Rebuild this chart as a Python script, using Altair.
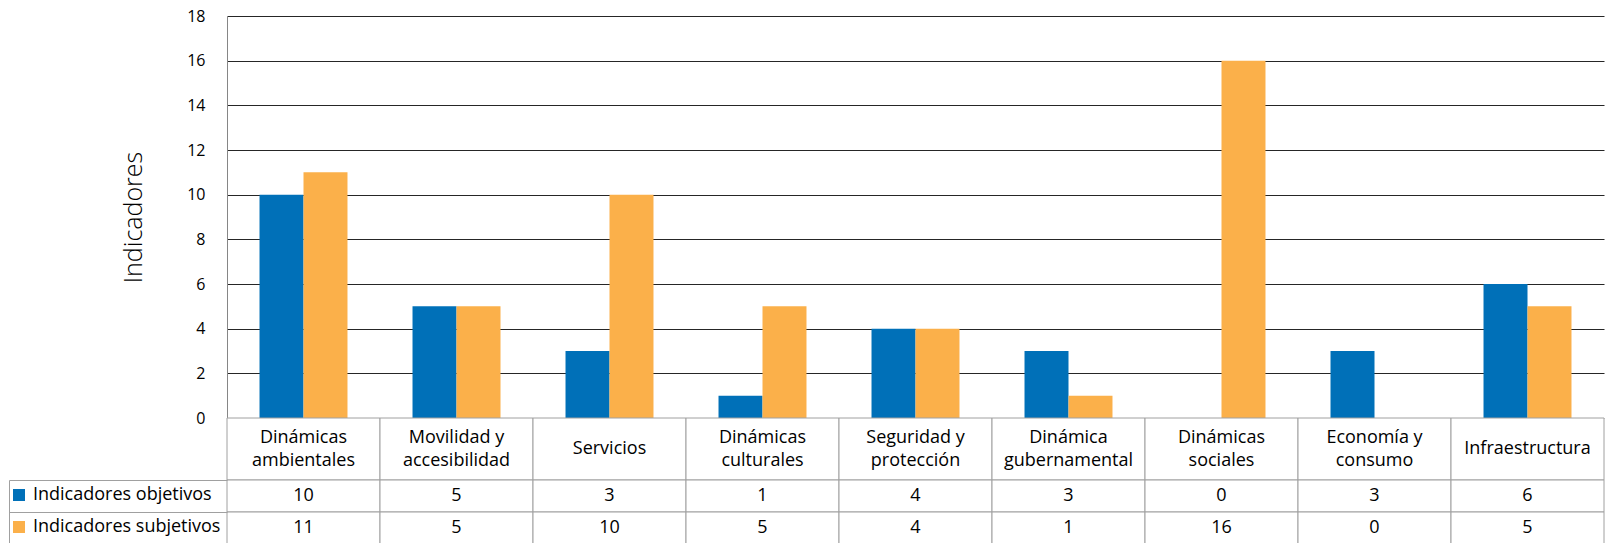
import altair as alt
import pandas as pd

categories = [
    "Dinámicas ambientales", "Movilidad y accesibilidad", "Servicios",
    "Dinámicas culturales", "Seguridad y protección", "Dinámica gubernamental",
    "Dinámicas sociales", "Economía y consumo", "Infraestructura",
]
line1 = ["Dinámicas", "Movilidad y", "", "Dinámicas", "Seguridad y", "Dinámica",
         "Dinámicas", "Economía y", ""]
line2 = ["ambientales", "accesibilidad", "", "culturales", "protección", "gubernamental",
         "sociales", "consumo", ""]
single = ["", "", "Servicios", "", "", "", "", "", "Infraestructura"]
series = ["Indicadores objetivos", "Indicadores subjetivos"]
objetivos = [10, 5, 3, 1, 4, 3, 0, 3, 6]
subjetivos = [11, 5, 10, 5, 4, 1, 16, 0, 5]
colors = ["#0070b8", "#fbb04a"]
y_ticks = [0, 2, 4, 6, 8, 10, 12, 14, 16, 18]

rows = []
for i, c in enumerate(categories):
    rows.append({"cat": c, "serie": series[0], "valor": objetivos[i]})
    rows.append({"cat": c, "serie": series[1], "valor": subjetivos[i]})
df = pd.DataFrame(rows)
cat_df = pd.DataFrame({"cat": categories, "l1": line1, "l2": line2, "single": single})

FONT = "Open Sans"
GRAY = "#a0a0a0"
W = 1377
FS = 18

x_bar = alt.X("cat:N", sort=categories,
              scale=alt.Scale(paddingInner=0.425, paddingOuter=0.2125), axis=None)

bars = alt.Chart(df).mark_bar().encode(
    x=x_bar,
    xOffset=alt.XOffset("serie:N", sort=series,
                        scale=alt.Scale(paddingInner=0, paddingOuter=0)),
    y=alt.Y("valor:Q", scale=alt.Scale(domain=[0, 18], nice=False),
            axis=alt.Axis(values=y_ticks, title="Indicadores", ticks=False,
                          labelPadding=22, labelFontSize=16, labelColor="black",
                          labelFont=FONT, domainColor="#868686",
                          gridColor=alt.condition("datum.value == 0", alt.value(GRAY), alt.value("#262626")),
                          titleFont=FONT, titleFontSize=25, titleFontWeight=300,
                          titleColor="black", titlePadding=40)),
    color=alt.Color("serie:N", sort=series,
                    scale=alt.Scale(domain=series, range=colors),
                    legend=alt.Legend(orient="none", legendX=-217, legendY=470, title=None,
                                      symbolType="square", symbolSize=144,
                                      symbolStrokeWidth=0, symbolOpacity=1,
                                      labelFontSize=FS, labelFont=FONT, labelLimit=400,
                                      labelColor="black", labelOffset=5,
                                      rowPadding=14, padding=0)),
).properties(width=W, height=402)

x_tab = alt.X("cat:N", sort=categories,
              scale=alt.Scale(paddingInner=0, paddingOuter=0), axis=None)

cat_cells = alt.Chart(cat_df).mark_rect(fill="white", stroke=GRAY, strokeWidth=1).encode(x=x_tab)
txt = dict(font=FONT, fontSize=FS, baseline="middle", color="black")
cat_t1 = alt.Chart(cat_df).mark_text(dy=-11.5, **txt).encode(x=x_tab, text="l1:N")
cat_t2 = alt.Chart(cat_df).mark_text(dy=11.5, **txt).encode(x=x_tab, text="l2:N")
cat_t0 = alt.Chart(cat_df).mark_text(**txt).encode(x=x_tab, text="single:N")
cat_panel = alt.layer(cat_cells, cat_t1, cat_t2, cat_t0).properties(width=W, height=62)

y_tab_scale = alt.Scale(paddingInner=0, paddingOuter=0)
cells = alt.Chart(df).mark_rect(fill="white", stroke=GRAY, strokeWidth=1).encode(
    x=x_tab,
    y=alt.Y("serie:N", sort=series, scale=y_tab_scale,
            axis=alt.Axis(title=None, labels=False, domain=False, tickBand="extent",
                          tickSize=218, tickColor=GRAY)),
)
vals = alt.Chart(df).mark_text(**txt).encode(
    x=x_tab,
    y=alt.Y("serie:N", sort=series,
            axis=alt.Axis(orient="left", offset=218, title=None, labels=False,
                          ticks=False, domain=True, domainColor=GRAY)),
    text="valor:Q",
)
data_panel = alt.layer(cells, vals).resolve_axis(y="independent").properties(width=W, height=64)

chart = alt.vconcat(bars, cat_panel, data_panel, spacing=0, bounds="flush").resolve_scale(
    x="independent", y="independent"
).properties(padding=0).configure_view(strokeWidth=0)

chart.save("out.html", embed_options={"renderer": "svg", "actions": False})
